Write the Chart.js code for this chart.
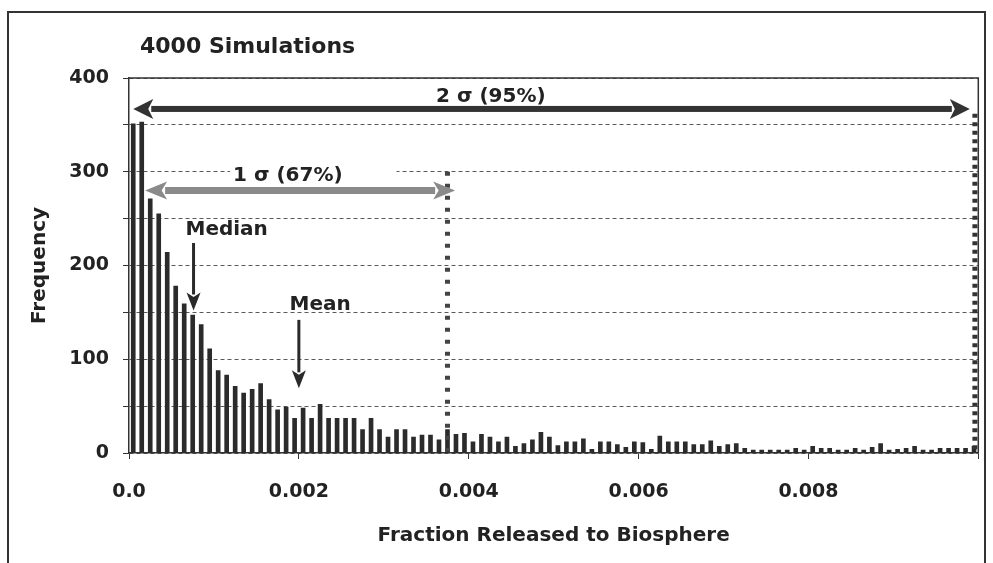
<!DOCTYPE html>
<html>
<head>
<meta charset="utf-8">
<title>4000 Simulations</title>
<script src="https://cdn.jsdelivr.net/npm/chart.js@4.4.1/dist/chart.umd.min.js"></script>
<style>
  html, body { margin: 0; padding: 0; background: #fff; }
  #wrap { position: relative; width: 993px; height: 563px; overflow: hidden; }
  #frame { position: absolute; left: 7px; top: 11px; width: 979px; height: 600px;
           border: 2px solid #333; box-sizing: border-box; pointer-events: none; }
  canvas { display: block; }
</style>
</head>
<body>
<div id="wrap">
  <canvas id="hist" width="993" height="563"></canvas>
  <div id="frame"></div>
</div>
<script>
(function () {
  'use strict';

  // ── Data ───────────────────────────────────────────────────────
  const binWidth = 0.0001;
  const frequency = [
    351, 353, 271, 255, 214, 178, 159, 147, 137, 111,
     88,  83,  71,  64,  68,  74,  57,  46,  49,  37,
     48,  37,  52,  37,  37,  37,  37,  25,  37,  25,
     17,  25,  25,  17,  19,  19,  14,  25,  20,  21,
     12,  20,  17,  12,  17,   7,  10,  14,  22,  17,
      8,  12,  12,  15,   4,  12,  12,   9,   6,  12,
     11,   4,  18,  12,  12,  12,   9,   9,  13,   7,
      9,  10,   5,   3,   3,   3,   3,   3,   5,   3,
      7,   5,   5,   3,   3,   5,   3,   6,  10,   3,
      4,   5,   7,   3,   3,   5,   5,   5,   5,   7,
  ];
  const binCenters = frequency.map((_, i) => +((i + 0.5) * binWidth).toFixed(5));

  const yTicks = [0, 100, 200, 300, 400];
  const xTicks = [0, 0.002, 0.004, 0.006, 0.008];
  const xTickLabels = ['0.0', '0.002', '0.004', '0.006', '0.008'];

  // statistics marked on the plot
  const medianValue = 0.00076;
  const meanValue = 0.002;
  const sigma1Value = 0.00375;
  const sigma2Value = 0.00996;

  // ── Style ──────────────────────────────────────────────────────
  const FONT = 'DejaVu Sans';
  const INK = '#222';
  const bold = size => ({ family: FONT, size, weight: 'bold' });

  // ── Drawing helpers ────────────────────────────────────────────
  function arrow(ctx, x1, y1, x2, y2, o) {
    const ang = Math.atan2(y2 - y1, x2 - x1);
    const len = Math.hypot(x2 - x1, y2 - y1);
    ctx.save();
    ctx.translate(x1, y1);
    ctx.rotate(ang);
    ctx.fillStyle = o.color;
    const s0 = o.both ? o.head - 2 : 0;
    ctx.fillRect(s0, -o.width / 2, len - s0 - o.head + 2, o.width);
    const head = (tip, base) => {
      ctx.beginPath();
      ctx.moveTo(tip, 0);
      ctx.lineTo(base, -o.half);
      ctx.lineTo(base + (tip - base) * 0.25, 0);
      ctx.lineTo(base, o.half);
      ctx.closePath();
      ctx.fill();
    };
    head(len, len - o.head);
    if (o.both) head(0, o.head);
    ctx.restore();
  }

  function dotted(ctx, x, yTop, yBottom, color, width, dash) {
    ctx.save();
    ctx.strokeStyle = color;
    ctx.lineWidth = width;
    ctx.setLineDash(dash);
    ctx.beginPath();
    ctx.moveTo(x, yTop);
    ctx.lineTo(x, yBottom);
    ctx.stroke();
    ctx.restore();
  }

  function label(ctx, text, x, y, size) {
    ctx.save();
    ctx.font = `bold ${size}px "${FONT}"`;
    ctx.fillStyle = INK;
    ctx.textAlign = 'center';
    ctx.textBaseline = 'middle';
    ctx.fillText(text, x, y);
    ctx.restore();
  }

  // ── Annotations: frame, sigma ranges, median / mean ────────────
  const markers = {
    id: 'markers',
    afterDatasetsDraw(chart) {
      const { ctx, chartArea: a, scales: { x, y } } = chart;

      // plot frame top and right
      ctx.save();
      ctx.strokeStyle = '#333';
      ctx.lineWidth = 1.5;
      ctx.beginPath();
      ctx.moveTo(a.left, a.top);
      ctx.lineTo(a.right, a.top);
      ctx.lineTo(a.right, a.bottom);
      ctx.stroke();
      ctx.restore();

      // sigma limits
      dotted(ctx, x.getPixelForValue(sigma1Value), y.getPixelForValue(300), a.bottom, '#444', 5, [4, 8]);
      dotted(ctx, x.getPixelForValue(sigma2Value), y.getPixelForValue(362), a.bottom, '#333', 5, [4, 4.5]);

      // 2 sigma range
      const y2 = y.getPixelForValue(367);
      arrow(ctx, x.getPixelForValue(0.00005), y2, x.getPixelForValue(0.0099), y2,
        { color: '#333', width: 6, head: 20, half: 10, both: true });
      label(ctx, '2 σ (95%)', x.getPixelForValue(0.00426), y.getPixelForValue(380), 20);

      // 1 sigma range, label sits on a white patch over the 300 grid line
      const yl = y.getPixelForValue(296);
      ctx.save();
      ctx.fillStyle = '#fff';
      ctx.fillRect(x.getPixelForValue(0.00119), yl - 12, x.getPixelForValue(0.00315) - x.getPixelForValue(0.00119), 22);
      ctx.restore();
      label(ctx, '1 σ (67%)', x.getPixelForValue(0.00187), yl, 20);
      const y1 = y.getPixelForValue(280);
      arrow(ctx, x.getPixelForValue(0.00019), y1, x.getPixelForValue(0.00384), y1,
        { color: '#8a8a8a', width: 7, head: 22, half: 9, both: true });

      // median and mean pointers
      const xm = x.getPixelForValue(medianValue);
      arrow(ctx, xm, y.getPixelForValue(224), xm, y.getPixelForValue(152),
        { color: '#2a2a2a', width: 3, head: 18, half: 7 });
      label(ctx, 'Median', x.getPixelForValue(0.00115), y.getPixelForValue(238), 20);

      const xa = x.getPixelForValue(meanValue);
      arrow(ctx, xa, y.getPixelForValue(142), xa, y.getPixelForValue(69),
        { color: '#2a2a2a', width: 3, head: 18, half: 7 });
      label(ctx, 'Mean', x.getPixelForValue(0.00225), y.getPixelForValue(158), 20);

      // chart heading
      ctx.save();
      ctx.font = `bold 22px "${FONT}"`;
      ctx.fillStyle = INK;
      ctx.textAlign = 'left';
      ctx.textBaseline = 'middle';
      ctx.fillText('4000 Simulations', a.left + 11, a.top - 31);
      ctx.restore();
    },
  };

  // ── Chart ──────────────────────────────────────────────────────
  new Chart(document.getElementById('hist').getContext('2d'), {
    type: 'bar',
    data: {
      datasets: [{
        label: 'Frequency',
        data: binCenters.map((c, i) => ({ x: c, y: frequency[i] })),
        backgroundColor: '#2b2b2b',
        borderWidth: 0,
        barThickness: 4,
      }],
    },
    options: {
      responsive: false,
      animation: false,
      layout: { padding: { left: 10, right: 14.7, top: 78, bottom: 0 } },
      plugins: {
        legend: { display: false },
        tooltip: { enabled: false },
      },
      scales: {
        x: {
          type: 'linear',
          min: 0,
          max: 0.01,
          offset: false,
          ticks: {
            stepSize: 0.002,
            color: INK,
            font: bold(19),
            padding: 22,
            maxRotation: 0,
            callback: v => {
              const k = xTicks.findIndex(t => Math.abs(t - v) < 1e-9);
              return k >= 0 ? xTickLabels[k] : '';
            },
          },
          grid: { offset: false, drawOnChartArea: false, tickLength: 6, color: '#333' },
          border: { color: '#333', width: 1.5 },
          title: {
            display: true,
            text: 'Fraction Released to Biosphere',
            color: INK,
            font: bold(20),
            padding: { top: 0, bottom: 15 },
          },
          // fixed band height; no extra side padding for end labels
          afterFit: s => { s.height = 110; s.paddingLeft = 0; s.paddingRight = 0; },
        },
        y: {
          min: 0,
          max: 400,
          ticks: {
            stepSize: 50,
            color: INK,
            font: bold(19),
            padding: 14,
            callback: v => (yTicks.includes(v) ? String(v) : ''),
          },
          grid: { color: '#5a5a5a', lineWidth: 1, tickLength: 6, tickColor: '#333' },
          border: { color: '#333', width: 1.5, dash: [4, 3] },
          title: {
            display: true,
            text: 'Frequency',
            color: INK,
            font: bold(20),
            padding: { top: 18, bottom: 0 },
          },
          afterFit: s => { s.width = 119; },
        },
      },
    },
    plugins: [markers],
  });
})();
</script>
</body>
</html>
